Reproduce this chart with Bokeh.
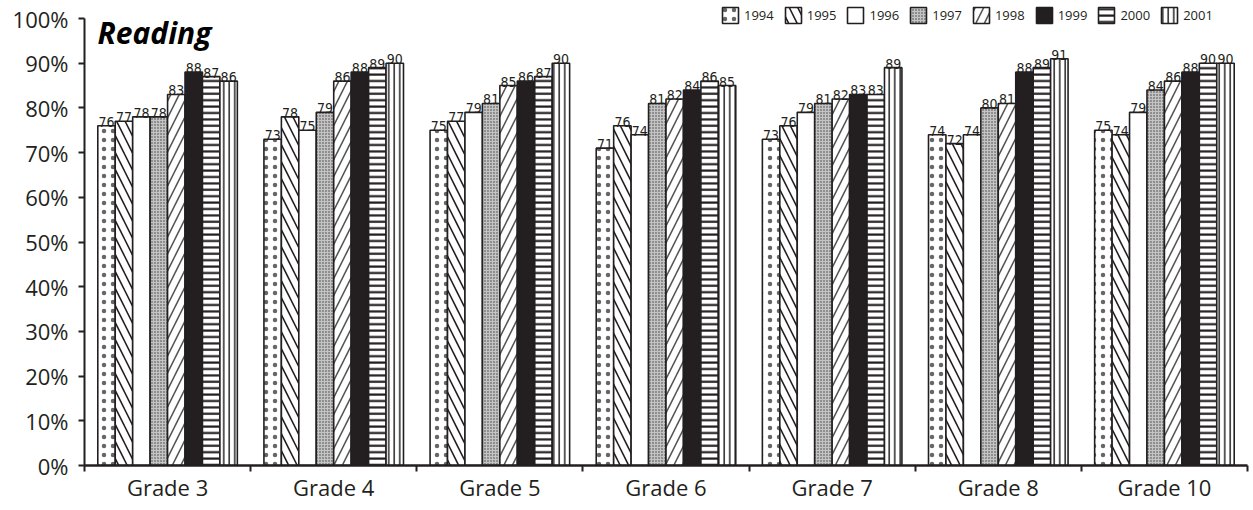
from bokeh.plotting import figure
from bokeh.models import (Range1d, FixedTicker, PrintfTickFormatter, Legend,
                          LegendItem, Label, ColumnDataSource)
from bokeh.transform import dodge
from bokeh.core.properties import value
from bokeh.embed import file_html
from bokeh.resources import INLINE

grades = ["Grade 3", "Grade 4", "Grade 5", "Grade 6", "Grade 7", "Grade 8", "Grade 10"]
years = ["1994", "1995", "1996", "1997", "1998", "1999", "2000", "2001"]
v1994 = [76, 73, 75, 71, 73, 74, 75]
v1995 = [77, 78, 77, 76, 76, 72, 74]
v1996 = [78, 75, 79, 74, 79, 74, 79]
v1997 = [78, 79, 81, 81, 81, 80, 84]
v1998 = [83, 86, 85, 82, 82, 81, 86]
v1999 = [88, 88, 86, 84, 83, 88, 88]
v2000 = [87, 89, 87, 86, 83, 89, 90]
v2001 = [86, 90, 90, 85, 89, 91, 90]
series = [v1994, v1995, v1996, v1997, v1998, v1999, v2000, v2001]
y_ticks = [0, 10, 20, 30, 40, 50, 60, 70, 80, 90, 100]

INK = "#231f20"
styles = {
    "1994": dict(fill_color="white", hatch_pattern=".", hatch_scale=9, hatch_weight=1, hatch_color="#666666"),
    "1995": dict(fill_color="white", hatch_pattern="\\", hatch_scale=17, hatch_weight=1.6, hatch_color=INK),
    "1996": dict(fill_color="white"),
    "1997": dict(fill_color="#c4c4c4", hatch_pattern=".", hatch_scale=3, hatch_weight=1.4, hatch_color="#3a3a3a"),
    "1998": dict(fill_color="white", hatch_pattern="/", hatch_scale=17, hatch_weight=1.6, hatch_color="#555555"),
    "1999": dict(fill_color=INK),
    "2000": dict(fill_color="white", hatch_pattern="-", hatch_scale=6.4, hatch_weight=2.2, hatch_color=INK),
    "2001": dict(fill_color="white", hatch_pattern="|", hatch_scale=5.5, hatch_weight=1.6, hatch_color="#333333"),
}

n = len(grades)
centers = [i + 0.5 for i in range(n)]
bw = 0.105

# frame extends 14px above the 100% line so the legend can sit there
top_pad = 14
plot_h = 447
y_end = 100 * (plot_h + top_pad) / plot_h

p = figure(frame_width=1163, frame_height=plot_h + top_pad, output_backend="svg",
           toolbar_location=None, x_range=Range1d(0, n), y_range=Range1d(0, y_end),
           min_border_left=84, min_border_right=5, min_border_top=4, min_border_bottom=30)
p.outline_line_color = None
p.xgrid.grid_line_color = None
p.ygrid.grid_line_color = None
p.background_fill_color = "white"

items = []
for j, (yr, vals) in enumerate(zip(years, series)):
    off = (j - 3.5) * bw
    src = ColumnDataSource(dict(xc=centers, top=vals, lab=[str(v) for v in vals]))
    r = p.vbar(x=dodge("xc", off), top="top", bottom=0, width=bw, source=src,
               line_color=INK, line_width=1.6, **styles[yr])
    p.text(x=dodge("xc", off), y="top", text="lab", source=src, text_align="center",
           text_baseline="bottom", y_offset=1, text_color=INK,
           text_font=value("DejaVu Sans Condensed"), text_font_size="14px")
    items.append(LegendItem(label=yr, renderers=[r]))

legend = Legend(items=items, orientation="horizontal", location=(636, 440),
                padding=0, margin=0, spacing=9, glyph_width=20, glyph_height=20,
                label_standoff=4, label_text_font="Open Sans",
                label_text_font_size="13px", label_text_color=INK,
                border_line_color=None, background_fill_alpha=0, label_height=20)
p.add_layout(legend, "center")

title = Label(x=13, y=433, x_units="screen", y_units="screen", text="Reading",
              text_font="Open Sans", text_font_style="bold italic",
              text_font_size="30px", text_baseline="middle", text_color="black")
p.add_layout(title)

xa = p.xaxis[0]
xa.ticker = FixedTicker(ticks=centers, minor_ticks=list(range(n + 1)))
xa.major_label_overrides = {c: g for c, g in zip(centers, grades)}
xa.major_tick_line_color = None
xa.major_tick_out = 0
xa.major_tick_in = 0
xa.minor_tick_in = 0
xa.minor_tick_out = 6
xa.minor_tick_line_width = 2
xa.minor_tick_line_color = INK
xa.axis_line_width = 2.5
xa.axis_line_color = INK
xa.major_label_text_font = "Open Sans"
xa.major_label_text_font_size = "22px"
xa.major_label_text_color = INK
xa.major_label_standoff = 0

ya = p.yaxis[0]
ya.ticker = FixedTicker(ticks=y_ticks)
ya.bounds = (0, 100)
ya.formatter = PrintfTickFormatter(format="%d%%")
ya.minor_tick_line_color = None
ya.major_tick_in = 0
ya.major_tick_out = 6
ya.major_tick_line_width = 2
ya.major_tick_line_color = INK
ya.axis_line_width = 2
ya.axis_line_color = INK
ya.major_label_text_font = "Open Sans"
ya.major_label_text_font_size = "22px"
ya.major_label_text_color = INK
ya.major_label_standoff = 10

open("out.html", "w").write(file_html(p, INLINE))
